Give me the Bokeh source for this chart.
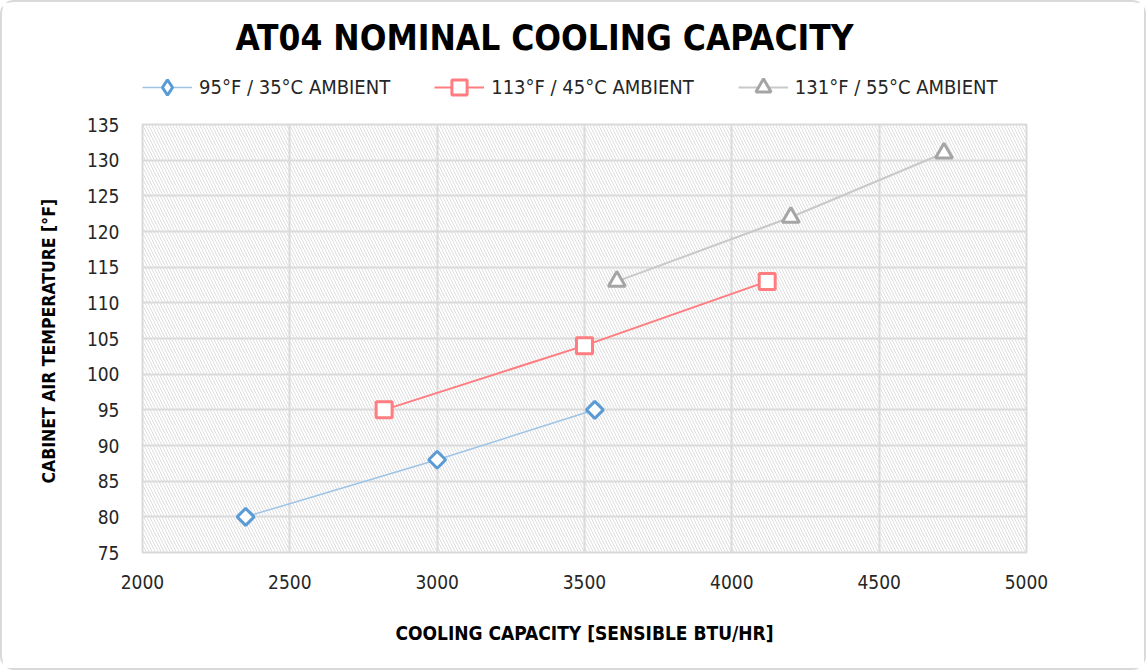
import math
from bokeh.plotting import figure
from bokeh.layouts import column
from bokeh.models import Legend, LegendItem, BoxAnnotation, Range1d, FixedTicker, Label
from bokeh.embed import file_html
from bokeh.resources import INLINE

# data
cap_35 = [2350, 3000, 3535]
temp_35 = [80, 88, 95]
cap_45 = [2820, 3500, 4120]
temp_45 = [95, 104, 113]
cap_55 = [3610, 4200, 4720]
temp_55 = [113, 122, 131]
labels = ["95°F / 35°C AMBIENT", "113°F / 45°C AMBIENT", "131°F / 55°C AMBIENT"]
x_ticks = [2000, 2500, 3000, 3500, 4000, 4500, 5000]
y_ticks = list(range(75, 136, 5))
title_text = "AT04 NOMINAL COOLING CAPACITY"

FONT = "'Liberation Sans Narrow', 'DejaVu Sans Condensed', 'Liberation Sans', sans-serif"

line_35 = dict(line_color="#9dc3e6", line_width=1.5)
line_45 = dict(line_color="#ff7c80", line_width=2)
line_55 = dict(line_color="#c9c9c9", line_width=2)
mark_45 = dict(marker="square", line_color="#ff7c80", fill_color="white", line_width=3)
mark_55 = dict(marker="triangle", line_color="#a5a5a5", fill_color="white", line_width=3)
mark_35 = dict(line_color="#5b9bd5", fill_color="white", line_width=3)

# ---- header: title + legend (its frame is aligned with the chart frame) ----
hdr = figure(width=1142, height=110, output_backend="svg", toolbar_location=None,
             x_range=Range1d(0, 1), y_range=Range1d(0, 1),
             min_border_left=0, min_border_right=0, min_border_top=0, min_border_bottom=0)
hdr.axis.visible = False
hdr.grid.visible = False
hdr.outline_line_color = None

hdr.add_layout(Label(x=402, y=75, x_units="screen", y_units="screen", text=title_text,
                     text_font=FONT, text_font_size="35px", text_font_style="bold",
                     text_color="#000000", text_align="center", text_baseline="middle"))

# legend swatches (series data lies outside this header's visible ranges)
h1l = hdr.line(cap_35, temp_35, **line_35)
h1m = hdr.scatter(cap_35, temp_35, marker="diamond", **mark_35)
h2l = hdr.line(cap_45, temp_45, **line_45)
h2m = hdr.scatter(cap_45, temp_45, **mark_45)
h3l = hdr.line(cap_55, temp_55, **line_55)
h3m = hdr.scatter(cap_55, temp_55, **mark_55)

legend = Legend(items=[LegendItem(label=labels[0], renderers=[h1l, h1m]),
                       LegendItem(label=labels[1], renderers=[h2l, h2m]),
                       LegendItem(label=labels[2], renderers=[h3l, h3m])],
                orientation="horizontal", location=(0, 6),
                glyph_width=50, glyph_height=38, label_standoff=7, spacing=44,
                padding=0, margin=0, border_line_color=None,
                background_fill_alpha=0,
                label_text_font=FONT, label_text_font_size="20px",
                label_text_color="#262626")
hdr.add_layout(legend, "center")

# ---- main chart ----
p = figure(width=1142, height=556, output_backend="svg", toolbar_location=None,
           x_range=Range1d(2000, 5000), y_range=Range1d(75, 135),
           min_border_left=140, min_border_right=118, min_border_top=12, min_border_bottom=116)
p.outline_line_color = "#d9d9d9"
p.outline_line_width = 2

p.add_layout(BoxAnnotation(left=2000, right=5000, bottom=75, top=135, fill_alpha=0,
                           line_alpha=0, hatch_pattern="\\", hatch_color="#dedede",
                           hatch_scale=6, hatch_weight=1, level="underlay"))

for ax in (p.xaxis[0], p.yaxis[0]):
    ax.axis_line_color = None
    ax.major_tick_line_color = None
    ax.minor_tick_line_color = None
    ax.major_label_text_font = FONT
    ax.major_label_text_font_size = "19px"
    ax.major_label_text_color = "#262626"
    ax.axis_label_text_font = FONT
    ax.axis_label_text_font_style = "bold"
    ax.axis_label_text_color = "#000000"

p.xaxis.axis_label_text_font_size = "19px"
p.yaxis.axis_label_text_font_size = "17.5px"
p.xaxis.ticker = FixedTicker(ticks=x_ticks)
p.yaxis.ticker = FixedTicker(ticks=y_ticks)
p.xaxis.axis_label = "COOLING CAPACITY [SENSIBLE BTU/HR]"
p.yaxis.axis_label = "CABINET AIR TEMPERATURE  [°F]"
p.xaxis.major_label_standoff = 16
p.yaxis.major_label_standoff = 17
p.xaxis.axis_label_standoff = 30
p.yaxis.axis_label_standoff = 25

p.xgrid.grid_line_color = "#d9d9d9"
p.ygrid.grid_line_color = "#d9d9d9"
p.xgrid.grid_line_width = 2
p.ygrid.grid_line_width = 2

p.line(cap_35, temp_35, **line_35)
p.scatter(cap_35, temp_35, marker="square", angle=math.pi / 4, size=12, **mark_35)
p.line(cap_45, temp_45, **line_45)
p.scatter(cap_45, temp_45, size=16, **mark_45)
p.line(cap_55, temp_55, **line_55)
p.scatter(cap_55, temp_55, size=17, **mark_55)

layout = column(hdr, p, spacing=0)
layout.styles = {"border": "2px solid #d9d9d9", "border-radius": "14px", "background": "white"}

open("out.html", "w").write(file_html(layout, INLINE))
